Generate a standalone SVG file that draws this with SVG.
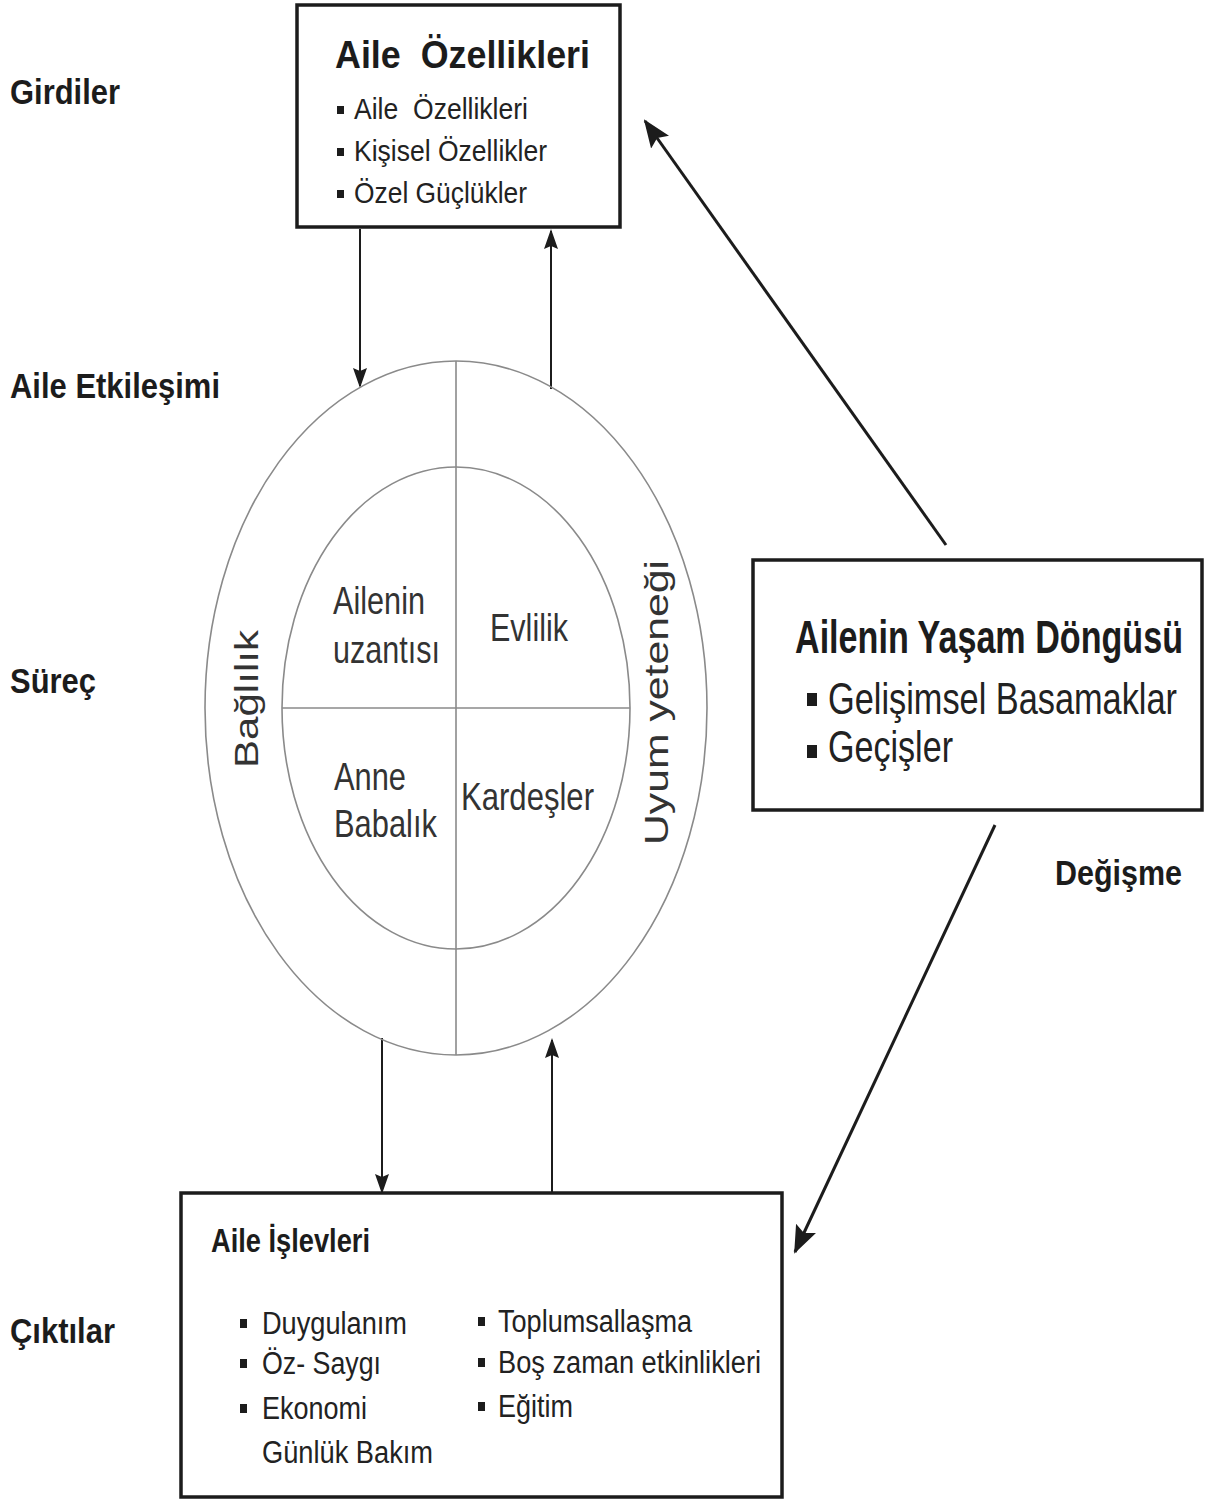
<svg xmlns="http://www.w3.org/2000/svg" width="1211" height="1502" viewBox="0 0 1211 1502">
<style>
.f{font-family:"Liberation Sans",Arial,Helvetica,sans-serif}
.b{font-weight:bold;fill:#1c1c1c}
.n{fill:#222}
.c{fill:#333}
.box{fill:#fff;stroke:#1c1c1c;stroke-width:3.5}
.ring{fill:none;stroke:#8a8a8a;stroke-width:1.6}
.div{stroke:#8a8a8a;stroke-width:1.6}
.conn{stroke:#1c1c1c;stroke-width:2;fill:none}
.diag{stroke:#1c1c1c;stroke-width:3;fill:none}
.blt{fill:#1c1c1c}
</style>
<defs>
<marker id="ah" markerUnits="userSpaceOnUse" markerWidth="20" markerHeight="14" viewBox="0 0 20 14" refX="18" refY="7" orient="auto">
<path d="M0,0 L20,7 L0,14 L3,7 z" fill="#1c1c1c"/>
</marker>
<marker id="ah2" markerUnits="userSpaceOnUse" markerWidth="28" markerHeight="22" viewBox="0 0 28 22" refX="26" refY="11" orient="auto">
<path d="M0,0 L28,11 L0,22 L5,11 z" fill="#1c1c1c"/>
</marker>
</defs>
<rect width="1211" height="1502" fill="#fff"/>

<g id="side-labels" class="f b">
<text transform="translate(10,104) scale(1,1.38)" font-size="26" textLength="110" lengthAdjust="spacingAndGlyphs">Girdiler</text>
<text transform="translate(10,398) scale(1,1.38)" font-size="26" textLength="210" lengthAdjust="spacingAndGlyphs">Aile Etkileşimi</text>
<text transform="translate(10,693) scale(1,1.38)" font-size="26" textLength="86" lengthAdjust="spacingAndGlyphs">Süreç</text>
<text transform="translate(10,1343) scale(1,1.38)" font-size="26" textLength="105" lengthAdjust="spacingAndGlyphs">Çıktılar</text>
<text transform="translate(1055,885) scale(1,1.38)" font-size="26" textLength="127" lengthAdjust="spacingAndGlyphs">Değişme</text>
</g>

<g id="connectors">
<line class="conn" x1="360" y1="229" x2="360" y2="386" marker-end="url(#ah)"/>
<line class="conn" x1="551" y1="389" x2="551" y2="231" marker-end="url(#ah)"/>
<line class="conn" x1="382" y1="1038" x2="382" y2="1192" marker-end="url(#ah)"/>
<line class="conn" x1="552" y1="1193" x2="552" y2="1040" marker-end="url(#ah)"/>
<line class="diag" x1="946" y1="545" x2="645" y2="121" marker-end="url(#ah2)"/>
<line class="diag" x1="995" y1="825" x2="795" y2="1252" marker-end="url(#ah2)"/>
</g>

<g id="aile-ozellikleri">
<rect class="box" x="297" y="5" width="323" height="222"/>
<text class="f b" transform="translate(335,68) scale(1,1.38)" font-size="28.3" textLength="255" lengthAdjust="spacingAndGlyphs">Aile&#160; Özellikleri</text>
<rect class="blt" x="337" y="106" width="7" height="8"/>
<text class="f n" transform="translate(354,119) scale(1,1.38)" font-size="21" textLength="174" lengthAdjust="spacingAndGlyphs">Aile&#160; Özellikleri</text>
<rect class="blt" x="337" y="148" width="7" height="8"/>
<text class="f n" transform="translate(354,161) scale(1,1.38)" font-size="21" textLength="193" lengthAdjust="spacingAndGlyphs">Kişisel Özellikler</text>
<rect class="blt" x="337" y="190" width="7" height="8"/>
<text class="f n" transform="translate(354,203) scale(1,1.38)" font-size="21" textLength="173" lengthAdjust="spacingAndGlyphs">Özel Güçlükler</text>
</g>

<g id="aile-etkilesimi">
<ellipse class="ring" cx="456" cy="708" rx="251" ry="347"/>
<ellipse class="ring" cx="456" cy="708" rx="174" ry="241"/>
<line class="div" x1="456" y1="361" x2="456" y2="1055"/>
<line class="div" x1="282" y1="708" x2="630" y2="708"/>
<text class="f c" transform="translate(333,614) scale(1,1.38)" font-size="27.5" textLength="92" lengthAdjust="spacingAndGlyphs">Ailenin</text>
<text class="f c" transform="translate(333,663) scale(1,1.38)" font-size="27.5" textLength="107" lengthAdjust="spacingAndGlyphs">uzantısı</text>
<text class="f c" transform="translate(490,641) scale(1,1.38)" font-size="27.5" textLength="78" lengthAdjust="spacingAndGlyphs">Evlilik</text>
<text class="f c" transform="translate(334,790) scale(1,1.38)" font-size="27.5" textLength="72" lengthAdjust="spacingAndGlyphs">Anne</text>
<text class="f c" transform="translate(334,837) scale(1,1.38)" font-size="27.5" textLength="103" lengthAdjust="spacingAndGlyphs">Babalık</text>
<text class="f c" transform="translate(461,810) scale(1,1.38)" font-size="27.5" textLength="133" lengthAdjust="spacingAndGlyphs">Kardeşler</text>
<text class="f c" transform="translate(258,768) rotate(-90)" font-size="34" textLength="138" lengthAdjust="spacingAndGlyphs">Bağlılık</text>
<text class="f c" transform="translate(668,845) rotate(-90)" font-size="34" textLength="285" lengthAdjust="spacingAndGlyphs">Uyum yeteneği</text>
</g>

<g id="ailenin-yasam-dongusu">
<rect class="box" x="753" y="560" width="449" height="250"/>
<text class="f b" transform="translate(795,653) scale(1,1.38)" font-size="34" textLength="388" lengthAdjust="spacingAndGlyphs">Ailenin Yaşam Döngüsü</text>
<rect class="blt" x="807" y="693" width="10" height="13"/>
<text class="f n" transform="translate(828,714) scale(1,1.38)" font-size="32" textLength="349" lengthAdjust="spacingAndGlyphs">Gelişimsel Basamaklar</text>
<rect class="blt" x="807" y="745" width="10" height="13"/>
<text class="f n" transform="translate(828,762) scale(1,1.38)" font-size="32" textLength="125" lengthAdjust="spacingAndGlyphs">Geçişler</text>
</g>

<g id="aile-islevleri">
<rect class="box" x="181" y="1193" width="601" height="304"/>
<text class="f b" transform="translate(211,1252) scale(1,1.38)" font-size="24.6" textLength="159" lengthAdjust="spacingAndGlyphs">Aile İşlevleri</text>
<rect class="blt" x="240" y="1319" width="7" height="9"/>
<text class="f n" transform="translate(262,1334) scale(1,1.38)" font-size="23.2" textLength="145" lengthAdjust="spacingAndGlyphs">Duygulanım</text>
<rect class="blt" x="240" y="1359" width="7" height="9"/>
<text class="f n" transform="translate(262,1374) scale(1,1.38)" font-size="23.2" textLength="119" lengthAdjust="spacingAndGlyphs">Öz- Saygı</text>
<rect class="blt" x="240" y="1404" width="7" height="9"/>
<text class="f n" transform="translate(262,1419) scale(1,1.38)" font-size="23.2" textLength="105" lengthAdjust="spacingAndGlyphs">Ekonomi</text>
<text class="f n" transform="translate(262,1463) scale(1,1.38)" font-size="23.2" textLength="171" lengthAdjust="spacingAndGlyphs">Günlük Bakım</text>
<rect class="blt" x="478" y="1317" width="7" height="9"/>
<text class="f n" transform="translate(498,1332) scale(1,1.38)" font-size="23.2" textLength="194" lengthAdjust="spacingAndGlyphs">Toplumsallaşma</text>
<rect class="blt" x="478" y="1358" width="7" height="9"/>
<text class="f n" transform="translate(498,1373) scale(1,1.38)" font-size="23.2" textLength="263" lengthAdjust="spacingAndGlyphs">Boş zaman etkinlikleri</text>
<rect class="blt" x="478" y="1402" width="7" height="9"/>
<text class="f n" transform="translate(498,1417) scale(1,1.38)" font-size="23.2" textLength="75" lengthAdjust="spacingAndGlyphs">Eğitim</text>
</g>
</svg>
